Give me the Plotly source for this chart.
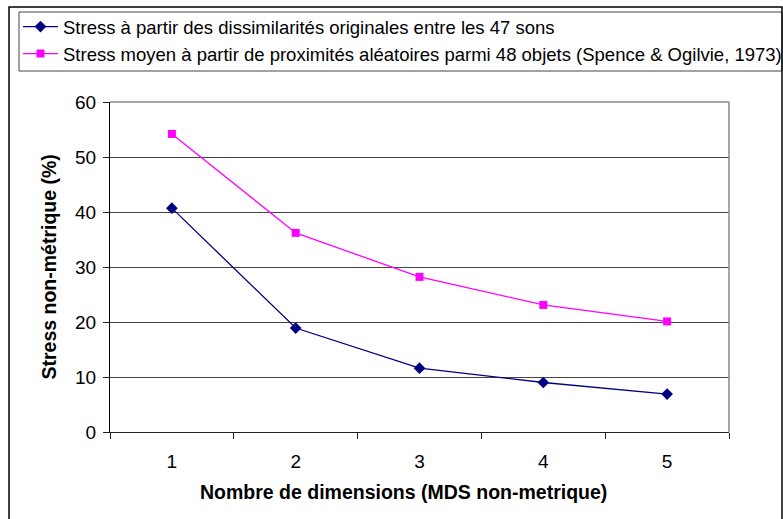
import plotly.graph_objects as go

dimensions = ["1", "2", "3", "4", "5"]
stress_original = [40.7, 18.9, 11.6, 9.0, 6.9]
stress_random = [54.2, 36.2, 28.2, 23.1, 20.1]
name_original = "Stress à partir des dissimilarités originales entre les 47 sons"
name_random = "Stress moyen à partir de proximités aléatoires parmi 48 objets (Spence & Ogilvie, 1973)"
y_ticks = [0, 10, 20, 30, 40, 50, 60]
x_title = "Nombre de dimensions (MDS non-metrique)"
y_title = "Stress non-métrique (%)"

W, H = 783, 519
L, R, T, B = 110, 54, 102, 87
PW, PH = W - L - R, H - T - B

def px(x):
    return (x - L) / PW

def py(y):
    return (H - B - y) / PH

FONT = "Arial, Liberation Sans, sans-serif"

fig = go.Figure()
fig.add_trace(go.Scatter(
    x=dimensions, y=stress_original, name=name_original, mode="lines+markers",
    line=dict(color="#000080", width=1.3),
    marker=dict(symbol="diamond", size=9, color="#000080"),
    legend="legend",
))
fig.add_trace(go.Scatter(
    x=dimensions, y=stress_random, name=name_random, mode="lines+markers",
    line=dict(color="#FF00FF", width=1.3),
    marker=dict(symbol="square", size=8, color="#FF00FF"),
    legend="legend2",
))

legend_common = dict(
    xanchor="left", yanchor="middle", bgcolor="rgba(0,0,0,0)",
    font=dict(family=FONT, size=18.5, color="black"), itemwidth=35,
    borderwidth=0,
)

fig.update_layout(
    width=W, height=H,
    margin=dict(l=L, r=R, t=T, b=B, autoexpand=False),
    paper_bgcolor="white", plot_bgcolor="white",
    font=dict(family=FONT, color="black"),
    showlegend=True,
    legend=dict(x=px(18), y=py(27), **legend_common),
    legend2=dict(x=px(18), y=py(54), **legend_common),
    xaxis=dict(
        type="category", range=[-0.5, 4.5], tickson="boundaries",
        ticks="outside", ticklen=6, ticklabelstandoff=12,
        tickcolor="#222", showline=True, linecolor="#222", linewidth=1,
        showgrid=False, tickfont=dict(size=19, family=FONT),
        fixedrange=True,
    ),
    yaxis=dict(
        range=[0, 60], tickvals=y_ticks, ticks="outside", ticklen=6,
        ticklabelstandoff=3,
        tickcolor="#222", showline=True, linecolor="black", linewidth=1,
        showgrid=True, gridcolor="#444", gridwidth=1,
        zeroline=False, tickfont=dict(size=19, family=FONT),
        fixedrange=True,
    ),
    annotations=[
        dict(text="<b>" + x_title + "</b>", xref="paper", yref="paper",
             x=px(403), y=py(492), xanchor="center", yanchor="middle",
             showarrow=False, font=dict(size=19.5, family=FONT)),
        dict(text="<b>" + y_title + "</b>", xref="paper", yref="paper",
             x=px(48), y=py(267.5), xanchor="center", yanchor="middle",
             textangle=-90, showarrow=False, font=dict(size=19.5, family=FONT)),
    ],
    shapes=[
        dict(type="line", xref="paper", yref="paper", x0=1, x1=1, y0=0, y1=1,
             line=dict(color="#888", width=1.5)),
        dict(type="line", xref="paper", yref="paper", x0=0, x1=1, y0=1, y1=1,
             line=dict(color="#888", width=1.5)),
        dict(type="rect", xref="paper", yref="paper",
             x0=px(19), x1=px(782), y0=py(12), y1=py(71),
             line=dict(color="#444", width=1)),
        dict(type="rect", xref="paper", yref="paper",
             x0=px(9), x1=px(782), y0=py(7), y1=py(525),
             line=dict(color="black", width=1.5)),
    ],
)

fig.write_html("out.html", config={"displayModeBar": False},
               post_script="document.body.style.margin='0';")
